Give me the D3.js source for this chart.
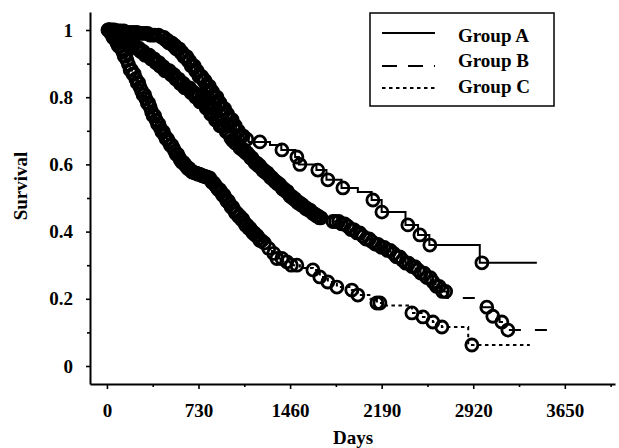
<!DOCTYPE html>
<html>
<head>
<meta charset="utf-8">
<script src="https://cdn.jsdelivr.net/npm/d3@7/dist/d3.min.js"></script>
<style>
  body { margin: 0; background: #fff; }
  svg { display: block; font-family: 'Liberation Serif', 'Times New Roman', serif; font-weight: bold; }
</style>
</head>
<body>
<svg id="chart"></svg>
<script>
// ticks
const xTicks = [0, 730, 1460, 2190, 2920, 3650];
const xMinorTicks = [365, 1095, 1825, 2555, 3285, 4015];
const yTicks = [0, 0.2, 0.4, 0.6, 0.8, 1];
const yMinorTicks = [0.1, 0.3, 0.5, 0.7, 0.9];

const groupNames = ['Group A', 'Group B', 'Group C'];

// Kaplan-Meier steps: [day, survival]
const groupA_steps = [
  [0, 1], [60, 0.997], [150, 0.993], [260, 0.99], [340, 0.985], [420, 0.978], [460, 0.97],
  [490, 0.962], [520, 0.954], [550, 0.944], [580, 0.933], [610, 0.921], [640, 0.908], [670, 0.893],
  [700, 0.878], [730, 0.862], [760, 0.85], [790, 0.833], [820, 0.817], [850, 0.8], [880, 0.783],
  [910, 0.766], [940, 0.75], [970, 0.733], [1000, 0.715], [1030, 0.7], [1060, 0.685], [1090, 0.675],
  [1130, 0.667], [1300, 0.658], [1390, 0.643], [1500, 0.622], [1530, 0.6], [1670, 0.583],
  [1750, 0.554], [1870, 0.53], [2000, 0.518], [2110, 0.494], [2190, 0.458], [2380, 0.42],
  [2480, 0.39], [2570, 0.36], [2972, 0.307],
];
const groupA_end = 3427;
// censored days (circles)
const groupA_censor = [
  20, 40, 58, 75, 92, 110, 135, 160, 188, 215, 240, 262, 285, 305, 325, 343, 362, 380, 410, 439,
  455, 468, 480, 492, 503, 515, 528, 541, 552, 563, 576, 588, 600, 612, 624, 636, 648, 660, 672,
  684, 696, 707, 720, 733, 745, 756, 769, 781, 793, 805, 817, 829, 841, 853, 866, 878, 890, 902,
  914, 926, 938, 951, 962, 974, 986, 998, 1010, 1023, 1035, 1047, 1060, 1072, 1085, 1115,
  1219, 1395, 1514, 1538, 1681, 1761, 1881, 2120, 2192, 2399, 2495, 2574, 2989,
];

const groupB_steps = [
  [0, 1], [30, 0.992], [60, 0.984], [100, 0.975], [140, 0.965], [180, 0.956], [220, 0.946],
  [260, 0.936], [300, 0.925], [340, 0.914], [380, 0.903], [420, 0.891], [460, 0.879], [500, 0.867],
  [540, 0.854], [580, 0.841], [620, 0.828], [660, 0.814], [700, 0.8], [740, 0.786], [780, 0.768],
  [820, 0.75], [860, 0.732], [900, 0.714], [940, 0.697], [980, 0.679], [1000, 0.672], [1020, 0.664],
  [1040, 0.657], [1060, 0.649], [1080, 0.642], [1100, 0.634], [1120, 0.627], [1140, 0.619],
  [1160, 0.612], [1180, 0.604], [1200, 0.597], [1220, 0.589], [1240, 0.582], [1260, 0.575],
  [1280, 0.568], [1300, 0.561], [1320, 0.555], [1340, 0.548], [1360, 0.541], [1380, 0.534],
  [1400, 0.527], [1420, 0.52], [1440, 0.512], [1460, 0.505], [1480, 0.498], [1500, 0.492],
  [1520, 0.486], [1540, 0.48], [1560, 0.475], [1580, 0.469], [1600, 0.464], [1620, 0.458],
  [1640, 0.453], [1660, 0.447], [1685, 0.441], [1710, 0.435], [1800, 0.43], [1850, 0.423],
  [1900, 0.416], [1940, 0.406], [1980, 0.396], [2020, 0.386], [2060, 0.378], [2100, 0.37],
  [2140, 0.362], [2180, 0.353], [2220, 0.344], [2260, 0.335], [2300, 0.325], [2340, 0.315],
  [2380, 0.306], [2420, 0.296], [2460, 0.286], [2500, 0.276], [2540, 0.263], [2580, 0.25],
  [2620, 0.237], [2660, 0.222], [2710, 0.202], [2990, 0.175], [3060, 0.148], [3130, 0.131],
  [3190, 0.107],
];
const groupB_end = 3610;
const groupB_censor = [
  8, 20, 32, 44, 57, 69, 81, 93, 107, 120, 131, 141, 155, 168, 181, 195, 206, 216, 230, 245, 256,
  268, 279, 290, 304, 318, 328, 338, 352, 366, 377, 388, 401, 414, 426, 437, 450, 463, 474, 485,
  498, 512, 523, 535, 548, 561, 572, 583, 596, 610, 620, 631, 645, 658, 669, 680, 694, 707, 718,
  729, 742, 756, 767, 778, 791, 805, 816, 827, 840, 853, 865, 876, 889, 902, 913, 924, 938, 951,
  962, 973, 987, 1000, 1011, 1022, 1035, 1048, 1060, 1071, 1084, 1097, 1108, 1119, 1133, 1146,
  1157, 1168, 1181, 1195, 1205, 1217, 1230, 1243, 1254, 1266, 1279, 1292, 1303, 1314, 1327, 1341,
  1352, 1363, 1376, 1389, 1400, 1412, 1425, 1438, 1449, 1460, 1473, 1487, 1498, 1509, 1522, 1535,
  1546, 1558, 1570, 1584, 1595, 1606, 1619, 1633, 1644, 1655, 1668, 1681, 1693, 1706,
  1801, 1823, 1848, 1870, 1896, 1919, 1945, 1967, 1994, 2016, 2042, 2065, 2091, 2113, 2140, 2162,
  2188, 2211, 2237, 2259, 2286, 2308, 2334, 2357, 2383, 2405, 2432, 2454, 2480, 2503, 2529, 2551,
  2578, 2600, 2626, 2649, 2675, 2700, 3028, 3076, 3148, 3196,
];

const groupC_steps = [
  [0, 1], [15, 0.995], [30, 0.988], [45, 0.978], [60, 0.969], [75, 0.96], [90, 0.952], [105, 0.944],
  [120, 0.935], [135, 0.922], [150, 0.91], [165, 0.897], [183, 0.881], [200, 0.869], [220, 0.855],
  [237, 0.843], [255, 0.83], [270, 0.819], [287, 0.807], [303, 0.795], [320, 0.782], [335, 0.77],
  [350, 0.757], [366, 0.745], [383, 0.732], [400, 0.72], [420, 0.708], [437, 0.697], [455, 0.686],
  [470, 0.676], [486, 0.667], [503, 0.657], [520, 0.648], [535, 0.639], [550, 0.63], [566, 0.621],
  [582, 0.613], [598, 0.606], [615, 0.6], [630, 0.594], [645, 0.588], [660, 0.582], [677, 0.577],
  [700, 0.574], [720, 0.571], [740, 0.569], [760, 0.566], [782, 0.563], [805, 0.56], [822, 0.552],
  [840, 0.545], [855, 0.538], [870, 0.531], [885, 0.525], [900, 0.518], [918, 0.509], [935, 0.5],
  [952, 0.491], [970, 0.482], [987, 0.473], [1004, 0.464], [1025, 0.455], [1045, 0.446],
  [1065, 0.437], [1085, 0.428], [1105, 0.419], [1124, 0.41], [1142, 0.403], [1160, 0.396],
  [1180, 0.388], [1200, 0.38], [1218, 0.373], [1235, 0.366], [1275, 0.35], [1315, 0.335],
  [1355, 0.32], [1400, 0.31], [1458, 0.3], [1538, 0.292], [1642, 0.286], [1697, 0.265],
  [1761, 0.25], [1833, 0.235], [1952, 0.226], [2000, 0.211], [2100, 0.2], [2152, 0.1875],
  [2216, 0.18], [2431, 0.158], [2519, 0.146], [2598, 0.131], [2670, 0.116], [2880, 0.0625],
];
const groupC_end = 3371;
const groupC_censor = [
  14, 25, 36, 48, 59, 70, 81, 92, 104, 116, 127, 138, 149, 160, 172, 185, 196, 207, 218, 230, 241,
  253, 264, 276, 288, 300, 311, 322, 334, 345, 356, 368, 380, 392, 403, 414, 426, 438, 449, 460,
  472, 483, 494, 506, 518, 530, 541, 552, 564, 575, 586, 598, 610, 622, 633, 645, 656, 668, 679,
  690, 702, 714, 726, 737, 748, 760, 771, 783, 795, 806, 818, 830, 841, 852, 864, 876, 887, 898,
  910, 922, 933, 945, 956, 968, 979, 990, 1002, 1014, 1025, 1037, 1048, 1060, 1071, 1083, 1094,
  1106, 1118, 1130, 1141, 1152, 1164, 1175, 1187, 1198, 1210, 1222, 1233, 1255, 1290, 1330, 1355,
  1395, 1434, 1470, 1514, 1642, 1697, 1761, 1833, 1952, 2000, 2152, 2176, 2431, 2519, 2598, 2670,
  2909,
];

const groups = [
  { name: groupNames[0], steps: groupA_steps, end: groupA_end, censor: groupA_censor, dash: null },
  { name: groupNames[1], steps: groupB_steps, end: groupB_end, censor: groupB_censor, dash: '12,14' },
  { name: groupNames[2], steps: groupC_steps, end: groupC_end, censor: groupC_censor, dash: '3.5,3.5' },
];

const width = 619;
const height = 448;
const fontSize = 19;
const CensorRadius = 6;
const CensorStroke = 2.8;

const svg = d3.select('#chart').attr('width', width).attr('height', height);
svg.append('rect').attr('width', width).attr('height', height).attr('fill', '#fff');

const x = d3.scaleLinear([-135, 4050], [90, 615]);
const y = d3.scaleLinear([-0.0536, 1.0536], [384, 12]);

// axes
svg
  .append('g')
  .attr('transform', `translate(0,${y.range()[0]})`)
  .call(d3.axisBottom(x).tickValues(xTicks).tickSize(5).tickPadding(15).tickSizeOuter(0).tickFormat(d3.format('d')));
svg
  .append('g')
  .attr('transform', `translate(0,${y.range()[0]})`)
  .call(d3.axisBottom(x).tickValues(xMinorTicks).tickSize(3).tickSizeOuter(0).tickFormat(''))
  .call((g) => g.select('.domain').remove());

svg
  .append('g')
  .attr('transform', `translate(${x.range()[0]},0)`)
  .call(d3.axisLeft(y).tickValues(yTicks).tickSize(4).tickPadding(13).tickSizeOuter(0).tickFormat((d) => String(d)));
svg
  .append('g')
  .attr('transform', `translate(${x.range()[0]},0)`)
  .call(d3.axisLeft(y).tickValues(yMinorTicks).tickSize(3).tickSizeOuter(0).tickFormat(''))
  .call((g) => g.select('.domain').remove());

svg.selectAll('.domain').attr('stroke', '#000').attr('stroke-width', 2);
svg.selectAll('.tick line').attr('stroke', '#000').attr('stroke-width', 1.6);
svg
  .selectAll('.tick text')
  .attr('fill', '#000')
  .style('font-size', `${fontSize}px`)
  .style('font-family', "'Liberation Serif', serif")
  .style('font-weight', 'bold');

// axis titles
svg
  .append('text')
  .attr('x', 353)
  .attr('y', 444)
  .attr('text-anchor', 'middle')
  .style('font-size', `${fontSize}px`)
  .text('Days');
svg
  .append('text')
  .attr('transform', 'translate(27,186) rotate(-90)')
  .attr('text-anchor', 'middle')
  .style('font-size', `${fontSize}px`)
  .text('Survival');

// survival value at time t (step after)
const bisectDay = d3.bisector((d) => d[0]).right;
const survAt = (steps, t) => steps[Math.max(0, bisectDay(steps, t) - 1)][1];

const stepLine = d3
  .line()
  .curve(d3.curveStepAfter)
  .x((d) => x(d[0]))
  .y((d) => y(d[1]));

const plot = svg.append('g');
groups.forEach((g) => {
  const pts = g.steps.concat([[g.end, g.steps[g.steps.length - 1][1]]]);
  plot
    .append('path')
    .attr('d', stepLine(pts))
    .attr('fill', 'none')
    .attr('stroke', '#000')
    .attr('stroke-width', 2)
    .attr('stroke-dasharray', g.dash);

  plot
    .append('g')
    .selectAll('circle')
    .data(g.censor)
    .join('circle')
    .attr('cx', (t) => x(t))
    .attr('cy', (t) => y(survAt(g.steps, t)))
    .attr('r', CensorRadius)
    .attr('fill', 'none')
    .attr('stroke', '#000')
    .attr('stroke-width', CensorStroke);
});

// legend
const legend = svg.append('g');
legend
  .append('rect')
  .attr('x', 370)
  .attr('y', 13)
  .attr('width', 184)
  .attr('height', 93)
  .attr('fill', '#fff')
  .attr('stroke', '#000')
  .attr('stroke-width', 1.5);
const legendRows = [
  { lineY: 33, textY: 42 },
  { lineY: 66, textY: 67 },
  { lineY: 88, textY: 93 },
];
groups.forEach((g, i) => {
  const row = legendRows[i];
  legend
    .append('line')
    .attr('x1', 382)
    .attr('x2', 435)
    .attr('y1', row.lineY)
    .attr('y2', row.lineY)
    .attr('stroke', '#000')
    .attr('stroke-width', 2)
    .attr('stroke-dasharray', i === 1 ? '15,11' : g.dash);
  legend
    .append('text')
    .attr('x', 458)
    .attr('y', row.textY)
    .style('font-size', `${fontSize}px`)
    .text(g.name);
});
</script>
</body>
</html>
